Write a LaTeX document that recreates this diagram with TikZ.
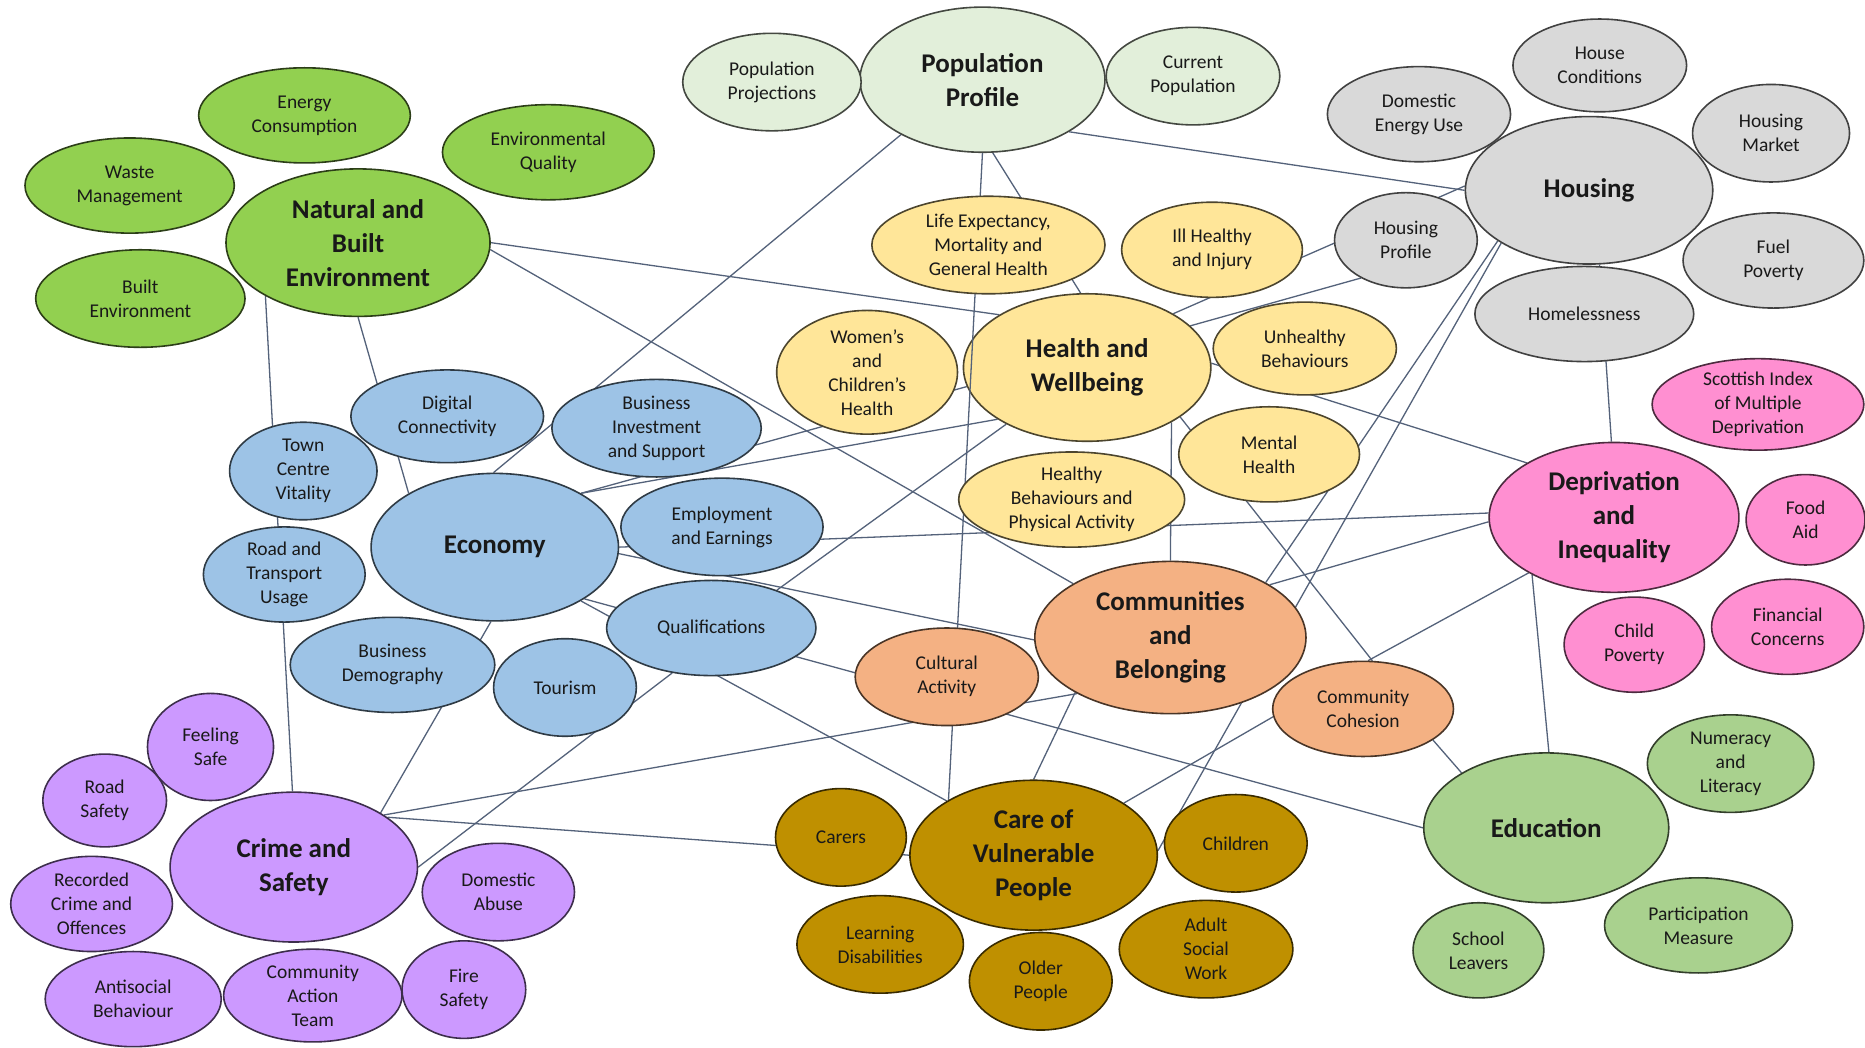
\documentclass[tikz,border=0pt]{standalone}
\usepackage{fontspec}
\setmainfont{Carlito}
\usetikzlibrary{shapes.geometric}
\pgfdeclarelayer{bg}
\pgfdeclarelayer{paper}
\pgfsetlayers{paper,bg,main}
\definecolor{cNat}{RGB}{146,208,80}
\definecolor{cPop}{RGB}{226,239,218}
\definecolor{cHou}{RGB}{217,217,217}
\definecolor{cHea}{RGB}{255,230,153}
\definecolor{cEco}{RGB}{157,195,230}
\definecolor{cCom}{RGB}{244,177,131}
\definecolor{cDep}{RGB}{255,143,209}
\definecolor{cEdu}{RGB}{169,209,142}
\definecolor{cCar}{RGB}{191,144,0}
\definecolor{cCri}{RGB}{204,153,255}
\definecolor{cLine}{RGB}{84,98,122}
\begin{document}
\begin{tikzpicture}[x=1.1894pt, y=-1.1894pt,
  bub/.style={ellipse, draw=#1!30!black, fill=#1, line width=1.6pt, inner sep=0pt,
    align=center, text=black!90, font=\fontsize{19.5}{24}\selectfont},
  big/.style={font=\fontsize{27}{34}\selectfont\bfseries},
  sz/.style 2 args={minimum width=2.3788*#1pt, minimum height=2.3788*#2pt},
  link/.style={draw=cLine, line width=1.3pt}]
\begin{pgfonlayer}{paper}
\fill[white] (0,0) rectangle (1568,881);
\end{pgfonlayer}
\useasboundingbox (0,0) rectangle (1568,881);

% main nodes drawn first
\node[bub=cPop, sz={103}{61}, big] (pp) at (826,67) {Population\\Profile};
\node[bub=cCar, sz={104}{63}, big] (care) at (869,719) {Care of\\Vulnerable\\People};
\node[bub=cHea, sz={104}{62}, big] (hw) at (914,309) {Health and\\Wellbeing};
\draw[link] (pp.270) -- (care.147);

\node[bub=cNat, sz={111}{62}, big] (nbe) at (301,204) {Natural and\\Built\\Environment};
\node[bub=cHou, sz={104}{62}, big] (hous) at (1336,160) {Housing};
\node[bub=cEco, sz={104}{62}, big] (eco) at (416,460) {Economy};
\node[bub=cCom, sz={114}{64}, big] (cb) at (984,536) {Communities\\and\\Belonging};
\node[bub=cDep, sz={105}{63}, big] (dep) at (1357,435) {Deprivation\\and\\Inequality};
\node[bub=cEdu, sz={103}{63}, big] (edu) at (1300,696) {Education};
\node[bub=cCri, sz={104}{63}, big] (cs) at (247,729) {Crime and\\Safety};

% natural and built environment
\node[bub=cNat, sz={89}{40}] (ec) at (256,97) {Energy\\Consumption};
\node[bub=cNat, sz={89}{40}] (eq) at (461,128) {Environmental\\Quality};
\node[bub=cNat, sz={88}{40}] (wm) at (109,156) {Waste\\Management};
\node[bub=cNat, sz={88}{41}] (be) at (118,251) {Built\\Environment};

% population
\node[bub=cPop, sz={75}{41}] (pproj) at (649,69) {Population\\Projections};
\node[bub=cPop, sz={73}{41}] (cpop) at (1003,64) {Current\\Population};

% housing
\node[bub=cHou, sz={73}{39}] (hcond) at (1345,55) {House\\Conditions};
\node[bub=cHou, sz={77}{40}] (deu) at (1193,96) {Domestic\\Energy Use};
\node[bub=cHou, sz={66}{41}] (hmkt) at (1489,112) {Housing\\Market};
\node[bub=cHou, sz={60}{40}] (hprof) at (1182,202) {Housing\\Profile};
\node[bub=cHou, sz={76}{40}] (fpov) at (1491,219) {Fuel\\Poverty};
\node[bub=cHou, sz={92}{40}] (homel) at (1332,264) {Homelessness};

% health
\node[bub=cHea, sz={98}{41}] (le) at (831,206) {Life Expectancy,\\Mortality and\\General Health};
\node[bub=cHea, sz={76}{40}] (ill) at (1019,210) {Ill Healthy\\and Injury};
\node[bub=cHea, sz={76}{52}] (wch) at (729,313) {Women’s\\and\\Children’s\\Health};
\node[bub=cHea, sz={77}{39}] (unh) at (1097,293) {Unhealthy\\Behaviours};
\node[bub=cHea, sz={76}{40}] (mh) at (1067,382) {Mental\\Health};
\node[bub=cHea, sz={95}{40}] (hbpa) at (901,420) {Healthy\\Behaviours and\\Physical Activity};

% economy
\node[bub=cEco, sz={81}{39}] (dc) at (376,350) {Digital\\Connectivity};
\node[bub=cEco, sz={88}{41}] (bis) at (552,360) {Business\\Investment\\and Support};
\node[bub=cEco, sz={62}{41}] (tcv) at (255,396) {Town\\Centre\\Vitality};
\node[bub=cEco, sz={85}{41}] (ee) at (607,443) {Employment\\and Earnings};
\node[bub=cEco, sz={68}{40}] (rtu) at (239,483) {Road and\\Transport\\Usage};
\node[bub=cEco, sz={88}{40}] (qual) at (598,528) {Qualifications};
\node[bub=cEco, sz={86}{40}] (bd) at (330,559) {Business\\Demography};
\node[bub=cEco, sz={60}{41}] (tour) at (475,578) {Tourism};

% communities
\node[bub=cCom, sz={77}{41}] (ca) at (796,569) {Cultural\\Activity};
\node[bub=cCom, sz={76}{40}] (cc) at (1146,596) {Community\\Cohesion};

% deprivation
\node[bub=cDep, sz={89}{37}] (simd) at (1478,340) {Scottish Index\\of Multiple\\Deprivation};
\node[bub=cDep, sz={50}{38}] (food) at (1518,437) {Food\\Aid};
\node[bub=cDep, sz={59}{40}] (chpov) at (1374,542) {Child\\Poverty};
\node[bub=cDep, sz={64}{40}] (fin) at (1503,527) {Financial\\Concerns};

% education
\node[bub=cEdu, sz={70}{41}] (num) at (1455,642) {Numeracy\\and\\Literacy};
\node[bub=cEdu, sz={79}{40}] (part) at (1428,778) {Participation\\Measure};
\node[bub=cEdu, sz={55}{40}] (sl) at (1243,799) {School\\Leavers};

% care
\node[bub=cCar, sz={55}{41}] (carers) at (707,704) {Carers};
\node[bub=cCar, sz={60}{41}] (child) at (1039,709) {Children};
\node[bub=cCar, sz={70}{41}] (ld) at (740,794) {Learning\\Disabilities};
\node[bub=cCar, sz={60}{41}] (older) at (875,825) {Older\\People};
\node[bub=cCar, sz={73}{41}] (asw) at (1014,798) {Adult\\Social\\Work};

% crime
\node[bub=cCri, sz={53}{45}] (fs) at (177,628) {Feeling\\Safe};
\node[bub=cCri, sz={52}{39}] (rs) at (88,673) {Road\\Safety};
\node[bub=cCri, sz={68}{40}] (rec) at (77,760) {Recorded\\Crime and\\Offences};
\node[bub=cCri, sz={64}{41}] (da) at (419,750) {Domestic\\Abuse};
\node[bub=cCri, sz={74}{40}] (asb) at (112,840) {Antisocial\\Behaviour};
\node[bub=cCri, sz={75}{39}] (cat) at (263,837) {Community\\Action\\Team};
\node[bub=cCri, sz={52}{41}] (fire) at (390,832) {Fire\\Safety};

\begin{pgfonlayer}{bg}
\draw[link] (pp.214) -- (eco.91);
\draw[link] (pp.278) -- (hw.95);
\draw[link] (pp.329) -- (hous.180);
\draw[link] (nbe.0) -- (hw.149);
\draw[link] (nbe.357) -- (cb.151);
\draw[link] (nbe.270) -- (eco.148);
\draw[link] (nbe.210) -- (cs.91);
\draw[link] (eco.32) -- (hw.189);
\draw[link] (eco.32) -- (hw.210);
\draw[link] (eco.0) -- (dep.178);
\draw[link] (eco.357) -- (cb.181);
\draw[link] (eco.330) -- (edu.180);
\draw[link] (eco.328) -- (care.148);
\draw[link] (eco.267) -- (cs.32);
\draw[link] (qual.30) -- (hw.215);
\draw[link] (qual.229) -- (cs.0);
\draw[link] (hw.327) -- (cb.90);
\draw[link] (hw.332) -- (cc.79);
\draw[link] (hw.32) -- (hous.178);
\draw[link] (hw.22) -- (hprof.220);
\draw[link] (hw.2) -- (dep.148);
\draw[link] (hous.209) -- (cb.30);
\draw[link] (hous.211) -- (care.2);
\draw[link] (hous.278) -- (dep.92);
\draw[link] (dep.182) -- (cb.28);
\draw[link] (dep.213) -- (cc.84);
\draw[link] (dep.215) -- (edu.88);
\draw[link] (cc.336) -- (edu.147);
\draw[link] (cc.185) -- (care.30);
\draw[link] (cb.210) -- (care.90);
\draw[link] (cs.30) -- (cb.211);
\draw[link] (cs.28) -- (care.180);
\end{pgfonlayer}
\end{tikzpicture}
\end{document}
